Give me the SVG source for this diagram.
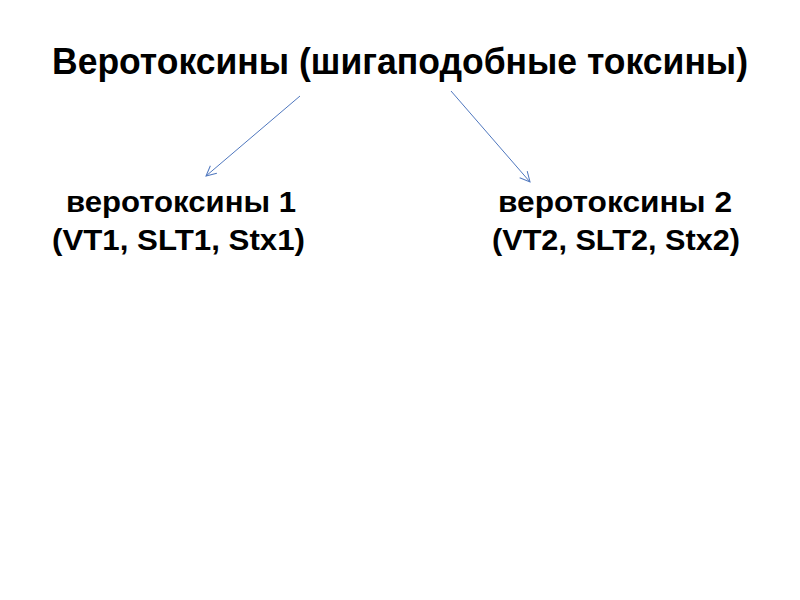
<svg xmlns="http://www.w3.org/2000/svg" width="800" height="600" viewBox="0 0 800 600">
<style>
text{font-family:"Liberation Sans",Arial,sans-serif;font-weight:bold;fill:#000}
.t{font-size:36px}
.s{font-size:30px}
.c{stroke:#4f77be;stroke-width:1;fill:none}
</style>
<defs>
<marker id="a" viewBox="0 0 12 12" refX="11" refY="6" markerWidth="12" markerHeight="12" markerUnits="userSpaceOnUse" orient="auto">
<path d="M1,1 L11,6 L1,11" stroke="#4f77be" stroke-width="1" fill="none"/>
</marker>
</defs>
<rect width="800" height="600" fill="#fff"/>
<g id="title"><text class="t" x="52" y="74" textLength="696" lengthAdjust="spacingAndGlyphs">Веротоксины (шигаподобные токсины)</text></g>
<g id="vt1"><text class="s" x="66" y="212" textLength="230" lengthAdjust="spacingAndGlyphs">веротоксины 1</text><text class="s" x="52" y="250" textLength="253" lengthAdjust="spacingAndGlyphs">(VT1, SLT1, Stx1)</text></g>
<g id="vt2"><text class="s" x="498" y="212" textLength="234" lengthAdjust="spacingAndGlyphs">веротоксины 2</text><text class="s" x="492" y="250" textLength="248" lengthAdjust="spacingAndGlyphs">(VT2, SLT2, Stx2)</text></g>
<g id="connectors">
<line class="c" x1="300" y1="96" x2="206" y2="176" marker-end="url(#a)"/>
<line class="c" x1="451" y1="91" x2="530" y2="182" marker-end="url(#a)"/>
</g>
</svg>
